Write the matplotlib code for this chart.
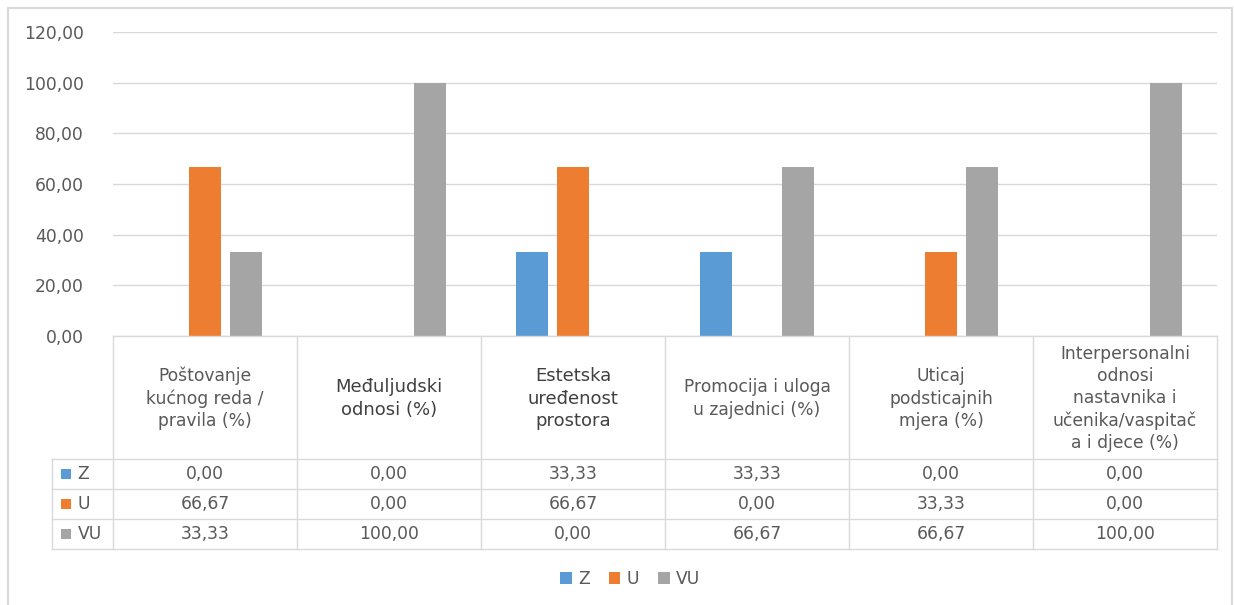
import matplotlib.pyplot as plt
from matplotlib.patches import Rectangle

# Dane wykresu
kategorie = [
    "Poštovanje\nkućnog reda /\npravila (%)",
    "Međuljudski\nodnosi (%)",
    "Estetska\nuređenost\nprostora",
    "Promocija i uloga\nu zajednici (%)",
    "Uticaj\npodsticajnih\nmjera (%)",
    "Interpersonalni\nodnosi\nnastavnika i\nučenika/vaspitač\na i djece (%)",
]
serie = ["Z", "U", "VU"]
z = [0.00, 0.00, 33.33, 33.33, 0.00, 0.00]
u = [66.67, 0.00, 66.67, 0.00, 33.33, 0.00]
vu = [33.33, 100.00, 0.00, 66.67, 66.67, 100.00]
y_ticks = [0, 20, 40, 60, 80, 100, 120]

wartosci = [z, u, vu]
kolory = ["#5B9BD5", "#ED7D31", "#A5A5A5"]
szary_tekst = "#595959"
linia = "#D9D9D9"
font = "DejaVu Sans"
fs = 12.3

W, H = 1234, 605
fig = plt.figure(figsize=(W / 100, H / 100), dpi=100)

# ramka wykresu
fig.patches.append(Rectangle((8 / W, -0.01), 1224 / W, 1 - 8 / H + 0.01,
                             transform=fig.transFigure, fill=False,
                             edgecolor=linia, lw=1.5))

# Wykres słupkowy
ax = fig.add_axes([113 / W, 1 - 336 / H, 1104 / W, 304 / H])
n = len(kategorie)
krok = 0.223
szer = 0.174
for j, (nazwa, vals, kol) in enumerate(zip(serie, wartosci, kolory)):
    xs = [i + 0.5 + (j - 1) * krok for i in range(n)]
    ax.bar(xs, vals, width=szer, color=kol, label=nazwa, zorder=3)

ax.set_xlim(0, n)
ax.set_ylim(0, 120)
ax.set_yticks(y_ticks)
ax.set_yticklabels([f"{t:.2f}".replace(".", ",") for t in y_ticks],
                   fontsize=fs, color=szary_tekst, family=font)
ax.tick_params(axis="y", length=0, pad=21)
ax.set_xticks([])
ax.grid(axis="y", color=linia, lw=1, zorder=0)
for s in ax.spines.values():
    s.set_visible(False)

# Tabela danych
lab_w = 61 / 184
th = fig.add_axes([52 / W, 1 - 549 / H, 1165 / W, 213 / H])
th.set_xlim(-lab_w, n)
th.set_ylim(213, 0)
th.axis("off")
h_head = 123
h_row = 30

kw = dict(color=linia, lw=1, clip_on=False)
th.plot([0, n], [0, 0], **kw)
for k in range(4):
    yy = h_head + k * h_row
    th.plot([-lab_w, n], [yy, yy], **kw)
th.plot([-lab_w, -lab_w], [h_head, h_head + 3 * h_row], **kw)
for i in range(n + 1):
    th.plot([i, i], [0, h_head + 3 * h_row], **kw)

ciemne = [False, True, True, False, False, False]
for i, kat in enumerate(kategorie):
    th.text(i + 0.5, h_head / 2 + 1, kat, ha="center", va="center",
            fontsize=13 if ciemne[i] else fs,
            color="#404040" if ciemne[i] else szary_tekst,
            family=font, linespacing=1.3)

for j, (nazwa, vals, kol) in enumerate(zip(serie, wartosci, kolory)):
    yc = h_head + j * h_row + h_row / 2
    th.scatter([-lab_w + 0.076], [yc], marker="s", s=60, color=kol,
               linewidths=0, clip_on=False)
    th.text(-lab_w + 0.138, yc, nazwa, ha="left", va="center",
            fontsize=fs, color=szary_tekst, family=font)
    for i, v in enumerate(vals):
        th.text(i + 0.5, yc, f"{v:.2f}".replace(".", ","), ha="center",
                va="center", fontsize=fs, color=szary_tekst, family=font)

# Legenda
fig.legend(loc="center", bbox_to_anchor=(630 / W, 1 - 579 / H), ncol=3,
           frameon=False, handlelength=0.7, handleheight=0.7,
           handletextpad=0.35, columnspacing=1.1,
           prop={"family": font, "size": fs}, labelcolor=szary_tekst)

fig.savefig("out.png", dpi=100)
